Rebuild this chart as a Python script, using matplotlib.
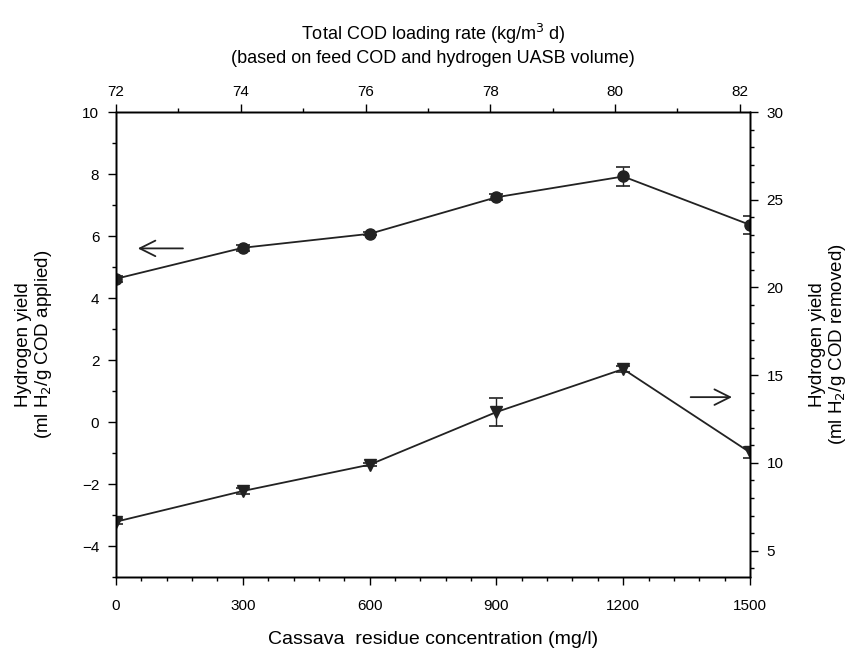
import matplotlib
matplotlib.use("Agg")
import matplotlib.pyplot as plt
from matplotlib.ticker import MultipleLocator

plt.rcParams["font.family"] = ["Liberation Sans", "DejaVu Sans"]

# cassava residue concentration (mg/l)
conc = [0, 300, 600, 900, 1200, 1500]
# hydrogen yield per g COD applied (left axis)
yield_applied = [4.62, 5.62, 6.07, 7.25, 7.92, 6.36]
err_applied = [0.10, 0.10, 0.05, 0.10, 0.30, 0.28]
# hydrogen yield per g COD removed (right axis)
yield_removed = [6.65, 8.4, 9.9, 12.9, 15.35, 10.6]
err_removed = [0.15, 0.15, 0.10, 0.80, 0.15, 0.30]
# top axis: total COD loading rate
cod_ticks = [72, 74, 76, 78, 80, 82]

fig = plt.figure(figsize=(8.51, 6.51), dpi=100)
ax = fig.add_axes([116 / 851, 1 - 577 / 651, (750 - 116) / 851, (577 - 112) / 651])

ax.errorbar(conc, yield_applied, yerr=err_applied, color="#222222", lw=1.3,
            marker="o", ms=8, capsize=5, elinewidth=1.0, capthick=1.2)
ax.set_xlim(0, 1500)
ax.set_ylim(-5, 10)
ax.set_xticks(conc)
ax.xaxis.set_minor_locator(MultipleLocator(60))
ax.yaxis.set_major_locator(MultipleLocator(2))
ax.yaxis.set_minor_locator(MultipleLocator(1))
ax.set_xlabel("Cassava  residue concentration (mg/l)", fontsize=14, labelpad=13)
ax.set_ylabel("Hydrogen yield\n(ml H$_2$/g COD applied)", fontsize=13.5,
              labelpad=20, linespacing=1.1)

ax2 = ax.twinx()
ax2.errorbar(conc, yield_removed, yerr=err_removed, color="#222222", lw=1.3,
             marker="v", ms=8, capsize=5, elinewidth=1.0, capthick=1.2)
ax2.set_ylim(3.5, 30)
ax2.yaxis.set_major_locator(MultipleLocator(5))
ax2.yaxis.set_minor_locator(MultipleLocator(1))
ax2.set_ylabel("Hydrogen yield\n(ml H$_2$/g COD removed)", fontsize=13.5,
               rotation=90, labelpad=18, linespacing=1.1)

ax3 = ax.twiny()
ax3.set_xlim(72, 72 + 1500 / 147.6)
ax3.set_xticks(cod_ticks)
ax3.xaxis.set_minor_locator(MultipleLocator(1))
ax3.set_xlabel("Total COD loading rate (kg/m$^3$ d)\n(based on feed COD and hydrogen UASB volume)",
               fontsize=13, labelpad=16, linespacing=1.3)

for a in (ax, ax2, ax3):
    a.tick_params(which="major", direction="out", length=6, width=1, labelsize=11, pad=6)
    a.tick_params(which="minor", direction="out", length=3, width=1)
    for s in a.spines.values():
        s.set_linewidth(1.0)

ax.tick_params(axis="x", pad=10)
ax3.tick_params(axis="x", pad=3)

# arrows pointing to the relevant axis
ax.annotate("", xy=(45, 5.6), xytext=(165, 5.6),
            arrowprops=dict(arrowstyle="->", lw=1.3, color="#222222",
                            mutation_scale=28))
ax2.annotate("", xy=(1464, 13.75), xytext=(1353, 13.75),
             arrowprops=dict(arrowstyle="->", lw=1.3, color="#222222",
                             mutation_scale=28))

fig.savefig("out.png", dpi=100)
